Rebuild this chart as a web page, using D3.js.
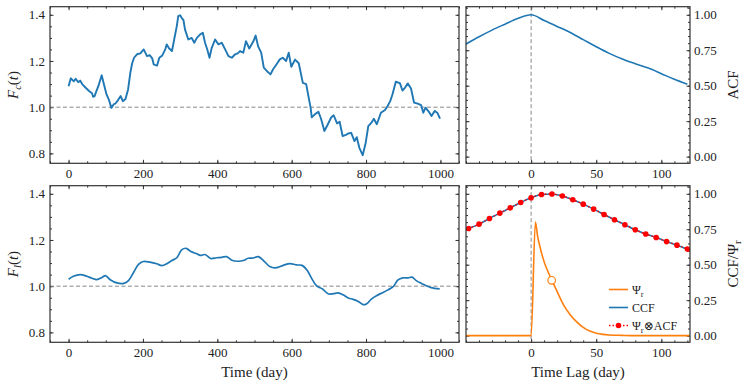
<!DOCTYPE html>
<html>
<head>
<meta charset="utf-8">
<script src="https://cdn.jsdelivr.net/npm/d3@7"></script>
<style>
  body { margin: 0; background: #fff; }
</style>
</head>
<body>
<div id="chart"></div>
<script>

// continuum light curve F_c(t), [day, flux]
var fcSeries = [[0,1.091],[6,1.125],[10,1.118],[14,1.112],[19,1.123],[26,1.108],[31,1.115],[37,1.099],[46,1.084],[55,1.070],
  [63,1.060],[66,1.045],[70,1.048],[73,1.062],[80,1.091],[89,1.138],[95,1.099],[102,1.055],[108,1.034],[115,0.997],
  [121,1.012],[126,1.016],[131,1.026],[140,1.048],[146,1.026],[153,1.035],[160,1.077],[166,1.149],[171,1.190],[176,1.214],
  [184,1.229],[193,1.233],[202,1.250],[211,1.221],[218,1.225],[225,1.211],[229,1.185],[234,1.182],[238,1.180],[244,1.214],
  [252,1.224],[260,1.250],[264,1.272],[270,1.255],[278,1.243],[284,1.293],[291,1.351],[295,1.394],[300,1.398],[304,1.387],
  [309,1.377],[313,1.337],[322,1.293],[331,1.300],[338,1.279],[345,1.300],[354,1.315],[361,1.322],[367,1.279],[373,1.250],
  [379,1.214],[385,1.257],[394,1.293],[403,1.272],[412,1.279],[421,1.250],[430,1.221],[439,1.214],[448,1.229],[455,1.233],
  [461,1.243],[470,1.236],[477,1.286],[486,1.254],[497,1.285],[503,1.310],[510,1.262],[518,1.236],[525,1.171],[536,1.152],
  [543,1.142],[550,1.164],[559,1.185],[568,1.207],[576,1.214],[585,1.200],[592,1.236],[599,1.175],[609,1.206],[619,1.190],
  [630,1.105],[639,1.100],[645,1.048],[651,0.997],[654,0.956],[663,0.970],[672,0.980],[679,0.950],[688,0.897],[697,0.925],
  [706,0.955],[713,0.965],[722,0.930],[729,0.937],[737,0.875],[746,0.880],[752,0.886],[760,0.889],[769,0.853],[775,0.870],
  [782,0.824],[791,0.792],[799,0.845],[806,0.918],[814,0.932],[821,0.950],[829,0.926],[840,0.976],[851,0.988],[858,1.005],
  [865,1.026],[871,1.055],[880,1.110],[891,1.104],[898,1.072],[905,1.085],[912,1.103],[921,1.081],[929,1.020],[939,1.015],
  [948,1.009],[954,0.976],[960,0.998],[969,0.980],[976,0.962],[985,0.984],[992,0.975],[999,0.950]];

// line light curve F_l(t), [day, flux]
var flSeries = [[0,1.030],[13,1.043],[31,1.050],[49,1.043],[63,1.034],[76,1.028],[90,1.038],[99,1.046],[112,1.028],[130,1.014],
  [148,1.012],[161,1.024],[175,1.060],[188,1.094],[201,1.107],[219,1.104],[237,1.097],[251,1.089],[264,1.097],[278,1.111],
  [291,1.123],[304,1.157],[316,1.164],[329,1.150],[345,1.140],[354,1.133],[367,1.137],[382,1.120],[398,1.123],[412,1.125],
  [425,1.128],[439,1.112],[456,1.108],[470,1.111],[483,1.121],[497,1.122],[510,1.128],[524,1.111],[541,1.085],[555,1.079],
  [577,1.090],[595,1.098],[613,1.092],[628,1.090],[642,1.068],[653,1.036],[667,1.001],[683,0.988],[698,0.967],[711,0.967],
  [725,0.971],[738,0.963],[752,0.949],[765,0.943],[779,0.934],[792,0.920],[801,0.923],[815,0.945],[828,0.959],[846,0.973],
  [859,0.984],[873,0.998],[886,1.027],[899,1.036],[913,1.036],[924,1.039],[935,1.024],[949,1.012],[962,1.002],[975,0.994],
  [998,0.988]];

// auto-correlation of the continuum
var acfLags = [-50, -40, -30, -20, -10, 0, 10, 20, 30, 40, 50, 60, 70, 80, 90, 100, 110, 120];
var acfVals = [0.794, 0.845, 0.892, 0.934, 0.975, 1.0, 0.960, 0.918, 0.875, 0.825, 0.775, 0.728, 0.688, 0.655, 0.624, 0.585, 0.545, 0.51];

// cross-correlation and transfer function convolved with ACF (same lag grid)
var ccfLags = [-48, -40, -32, -24, -16, -8, 0, 8, 16, 24, 32, 40, 48, 56, 64, 72, 80, 88, 96, 104, 112, 120];
var ccfVals = [0.755, 0.786, 0.826, 0.864, 0.901, 0.939, 0.972, 0.995, 0.998, 0.984, 0.958, 0.927, 0.892, 0.854, 0.817, 0.782, 0.746, 0.716, 0.692, 0.663, 0.638, 0.610];
var convVals = [0.755, 0.786, 0.826, 0.864, 0.901, 0.939, 0.972, 0.995, 0.998, 0.984, 0.958, 0.927, 0.892, 0.854, 0.817, 0.782, 0.746, 0.716, 0.692, 0.663, 0.638, 0.610];

// transfer function Psi_r
var psiLags = [-50, 0, 3.3, 5, 7, 10, 13, 16, 20, 25, 30, 35, 40, 45, 50, 55, 60, 70, 80, 122];
var psiVals = [0, 0, 0.80, 0.70, 0.62, 0.52, 0.45, 0.39, 0.31, 0.215, 0.148, 0.097, 0.058, 0.032, 0.017, 0.009, 0.005, 0.002, 0, 0];
var psiCentroid = [15.8, 0.39];

// tick values
var timeTicks = [0, 200, 400, 600, 800, 1000];
var fluxTicks = [0.8, 1.0, 1.2, 1.4];
var lagTicks = [0, 50, 100];
var corrTicks = [0, 0.25, 0.5, 0.75, 1.0];

var FONT = '"Liberation Serif", "DejaVu Serif", serif';
var blue = "#1f77b4", orange = "#ff7f0e", red = "#ff0000";

var svg = d3.select("#chart")
  .append("svg")
    .attr("width", 748)
    .attr("height", 387)
    .style("font-family", FONT);

// panel boxes
var leftX = 50, leftW = 409, rightX = 466, rightW = 224;
var topY = 6.7, botY = 185.7, panelH = 156.6;

var xTime = d3.scaleLinear().domain([-50, 1050]).range([0, leftW]);
var yFlux = d3.scaleLinear().domain([0.757, 1.435]).range([panelH, 0]);
var xLag = d3.scaleLinear().domain([-50, 122]).range([0, rightW]);
var yCorr = d3.scaleLinear().domain([-0.047, 1.057]).range([panelH, 0]);

function range(a, b, step) {
  return d3.range(Math.round((b - a) / step) + 1).map(function(i) { return +(a + i * step).toFixed(4); });
}

function addAxis(g, axisFn, scale, transform, major, minor, fmt, pad) {
  var a = g.append("g")
    .attr("transform", transform)
    .call(axisFn(scale).tickValues(major).tickSizeInner(-3.5).tickSizeOuter(0)
      .tickPadding(pad || 5).tickFormat(fmt || ""));
  a.attr("font-family", FONT).attr("font-size", 13).attr("color", "#333");
  a.select(".domain").remove();
  a.selectAll("text").attr("fill", "#222");
  var m = g.append("g")
    .attr("transform", transform)
    .call(axisFn(scale).tickValues(minor).tickSizeInner(-2).tickSizeOuter(0).tickFormat(""));
  m.attr("color", "#333");
  m.select(".domain").remove();
}

// one panel: frame, ticks on all sides, clip
function makePanel(id, x0, y0, w, h, xs, ys, xMajor, xMinor, yMajor, yMinor, xFmt, yFmt, yRight) {
  var g = svg.append("g").attr("transform", "translate(" + x0 + "," + y0 + ")");
  svg.append("clipPath").attr("id", id)
    .append("rect").attr("width", w).attr("height", h);

  addAxis(g, d3.axisBottom, xs, "translate(0," + h + ")", xMajor, xMinor, xFmt, 5);
  addAxis(g, d3.axisTop, xs, "translate(0,0)", xMajor, xMinor, null);
  if (yRight) {
    addAxis(g, d3.axisLeft, ys, "translate(0,0)", yMajor, yMinor, null);
    addAxis(g, d3.axisRight, ys, "translate(" + w + ",0)", yMajor, yMinor, yFmt, 4);
  } else {
    addAxis(g, d3.axisLeft, ys, "translate(0,0)", yMajor, yMinor, yFmt, 5);
    addAxis(g, d3.axisRight, ys, "translate(" + w + ",0)", yMajor, yMinor, null);
  }

  var plot = g.append("g").attr("clip-path", "url(#" + id + ")");
  g.append("rect")
    .attr("width", w).attr("height", h)
    .attr("fill", "none").attr("stroke", "#333").attr("stroke-width", 1.2);
  return plot;
}

var timeMinor = range(-50, 1050, 50);
var fluxMinor = range(0.8, 1.4, 0.05);
var lagMinor = range(-50, 120, 10);
var corrMinor = range(0, 1.05, 0.05);
var f1 = d3.format(".1f"), f2 = d3.format(".2f");

// ---- top left: continuum
var p1 = makePanel("c1", leftX, topY, leftW, panelH, xTime, yFlux, timeTicks, timeMinor, fluxTicks, fluxMinor, d3.format("d"), f1, false);
p1.append("line")
  .attr("x1", 0).attr("x2", leftW).attr("y1", yFlux(1)).attr("y2", yFlux(1))
  .attr("stroke", "#888").attr("stroke-width", 1).attr("stroke-dasharray", "4,2.5");
p1.append("path")
  .datum(fcSeries)
  .attr("fill", "none")
  .attr("stroke", blue)
  .attr("stroke-width", 1.9)
  .attr("stroke-linejoin", "round")
  .attr("d", d3.line()
    .x(function(d) { return xTime(d[0]); })
    .y(function(d) { return yFlux(d[1]); }));

// ---- bottom left: line light curve
var p3 = makePanel("c3", leftX, botY, leftW, panelH, xTime, yFlux, timeTicks, timeMinor, fluxTicks, fluxMinor, d3.format("d"), f1, false);
p3.append("line")
  .attr("x1", 0).attr("x2", leftW).attr("y1", yFlux(1)).attr("y2", yFlux(1))
  .attr("stroke", "#888").attr("stroke-width", 1).attr("stroke-dasharray", "4,2.5");
p3.append("path")
  .datum(flSeries)
  .attr("fill", "none")
  .attr("stroke", blue)
  .attr("stroke-width", 1.7)
  .attr("d", d3.line()
    .curve(d3.curveCatmullRom)
    .x(function(d) { return xTime(d[0]); })
    .y(function(d) { return yFlux(d[1]); }));

// ---- top right: ACF
var p2 = makePanel("c2", rightX, topY, rightW, panelH, xLag, yCorr, lagTicks, lagMinor, corrTicks, corrMinor, d3.format("d"), f2, true);
p2.append("line")
  .attr("x1", xLag(0)).attr("x2", xLag(0)).attr("y1", 0).attr("y2", panelH)
  .attr("stroke", "#888").attr("stroke-width", 1).attr("stroke-dasharray", "4,2.5");
p2.append("path")
  .datum(d3.zip(acfLags, acfVals))
  .attr("fill", "none")
  .attr("stroke", blue)
  .attr("stroke-width", 1.6)
  .attr("d", d3.line()
    .curve(d3.curveMonotoneX)
    .x(function(d) { return xLag(d[0]); })
    .y(function(d) { return yCorr(d[1]); }));

// ---- bottom right: CCF, transfer function, convolution
var p4 = makePanel("c4", rightX, botY, rightW, panelH, xLag, yCorr, lagTicks, lagMinor, corrTicks, corrMinor, d3.format("d"), f2, true);
p4.append("line")
  .attr("x1", xLag(0)).attr("x2", xLag(0)).attr("y1", 0).attr("y2", panelH)
  .attr("stroke", "#888").attr("stroke-width", 1).attr("stroke-dasharray", "4,2.5");

var lagLine = d3.line()
  .x(function(d) { return xLag(d[0]); })
  .y(function(d) { return yCorr(d[1]); });

p4.append("path")
  .datum(d3.zip(psiLags, psiVals))
  .attr("fill", "none")
  .attr("stroke", orange)
  .attr("stroke-width", 1.6)
  .attr("d", lagLine.curve(d3.curveMonotoneX));

p4.append("circle")
  .attr("cx", xLag(psiCentroid[0])).attr("cy", yCorr(psiCentroid[1])).attr("r", 3.8)
  .attr("fill", "#fff").attr("stroke", orange).attr("stroke-width", 1.2);

p4.append("path")
  .datum(d3.zip(ccfLags, ccfVals))
  .attr("fill", "none")
  .attr("stroke", blue)
  .attr("stroke-width", 1.6)
  .attr("d", lagLine.curve(d3.curveMonotoneX));

p4.append("path")
  .datum(d3.zip(ccfLags, convVals))
  .attr("fill", "none")
  .attr("stroke", red)
  .attr("stroke-width", 1.4)
  .attr("stroke-dasharray", "1.5,2")
  .attr("d", lagLine.curve(d3.curveMonotoneX));

p4.selectAll(".dot")
  .data(d3.zip(ccfLags, convVals))
  .join("circle")
    .attr("cx", function(d) { return xLag(d[0]); })
    .attr("cy", function(d) { return yCorr(d[1]); })
    .attr("r", 2.8)
    .attr("fill", red);

// legend
var legend = svg.append("g").attr("transform", "translate(609,0)");
var rows = [
  {y: 289.5, color: orange, label: "psi"},
  {y: 307.5, color: blue, label: "CCF"},
  {y: 325.5, color: red, label: "conv"}
];
rows.forEach(function(r) {
  var line = legend.append("line")
    .attr("x1", 0).attr("x2", 19).attr("y1", r.y).attr("y2", r.y)
    .attr("stroke", r.color).attr("stroke-width", 1.6);
  var t = legend.append("text")
    .attr("x", 23).attr("y", r.y).attr("dy", "0.35em")
    .attr("font-size", 12).attr("fill", "#222");
  if (r.label == "psi") {
    t.append("tspan").text("Ψ");
    t.append("tspan").attr("font-size", 8.5).attr("dy", 3).text("r");
  } else if (r.label == "CCF") {
    t.text("CCF");
  } else {
    line.attr("stroke-dasharray", "1.5,2").attr("stroke-width", 1.4);
    legend.append("circle").attr("cx", 9.5).attr("cy", r.y).attr("r", 2.8).attr("fill", red);
    t.append("tspan").text("Ψ");
    t.append("tspan").attr("font-size", 8.5).attr("dy", 3).text("r");
    t.append("tspan").attr("dy", -3).text("⊗ACF");
  }
});

// axis titles
function yTitle(x, y, parts) {
  var t = svg.append("text")
    .attr("transform", "translate(" + x + "," + y + ") rotate(-90)")
    .attr("text-anchor", "middle")
    .attr("dy", "0.35em")
    .attr("font-size", 15)
    .attr("fill", "#222");
  parts.forEach(function(p) {
    var s = t.append("tspan").text(p.t);
    if (p.i) s.attr("font-style", "italic");
    if (p.dy) s.attr("dy", p.dy);
    if (p.s) s.attr("font-size", p.s);
  });
}

yTitle(13, topY + panelH / 2, [{t: "F", i: 1}, {t: "c", i: 1, dy: 3, s: 10.5}, {t: "(", dy: -3}, {t: "t", i: 1}, {t: ")"}]);
yTitle(13, botY + panelH / 2, [{t: "F", i: 1}, {t: "l", i: 1, dy: 3, s: 10.5}, {t: "(", dy: -3}, {t: "t", i: 1}, {t: ")"}]);
yTitle(733, topY + panelH / 2, [{t: "ACF"}]);
yTitle(733, botY + panelH / 2, [{t: "CCF/Ψ"}, {t: "r", dy: 3, s: 10.5}]);

svg.append("text")
  .attr("x", leftX + leftW / 2).attr("y", 372).attr("dy", "0.35em")
  .attr("text-anchor", "middle").attr("font-size", 15).attr("fill", "#222")
  .text("Time (day)");
svg.append("text")
  .attr("x", rightX + rightW / 2).attr("y", 372).attr("dy", "0.35em")
  .attr("text-anchor", "middle").attr("font-size", 15).attr("fill", "#222")
  .text("Time Lag (day)");

</script>
</body>
</html>
